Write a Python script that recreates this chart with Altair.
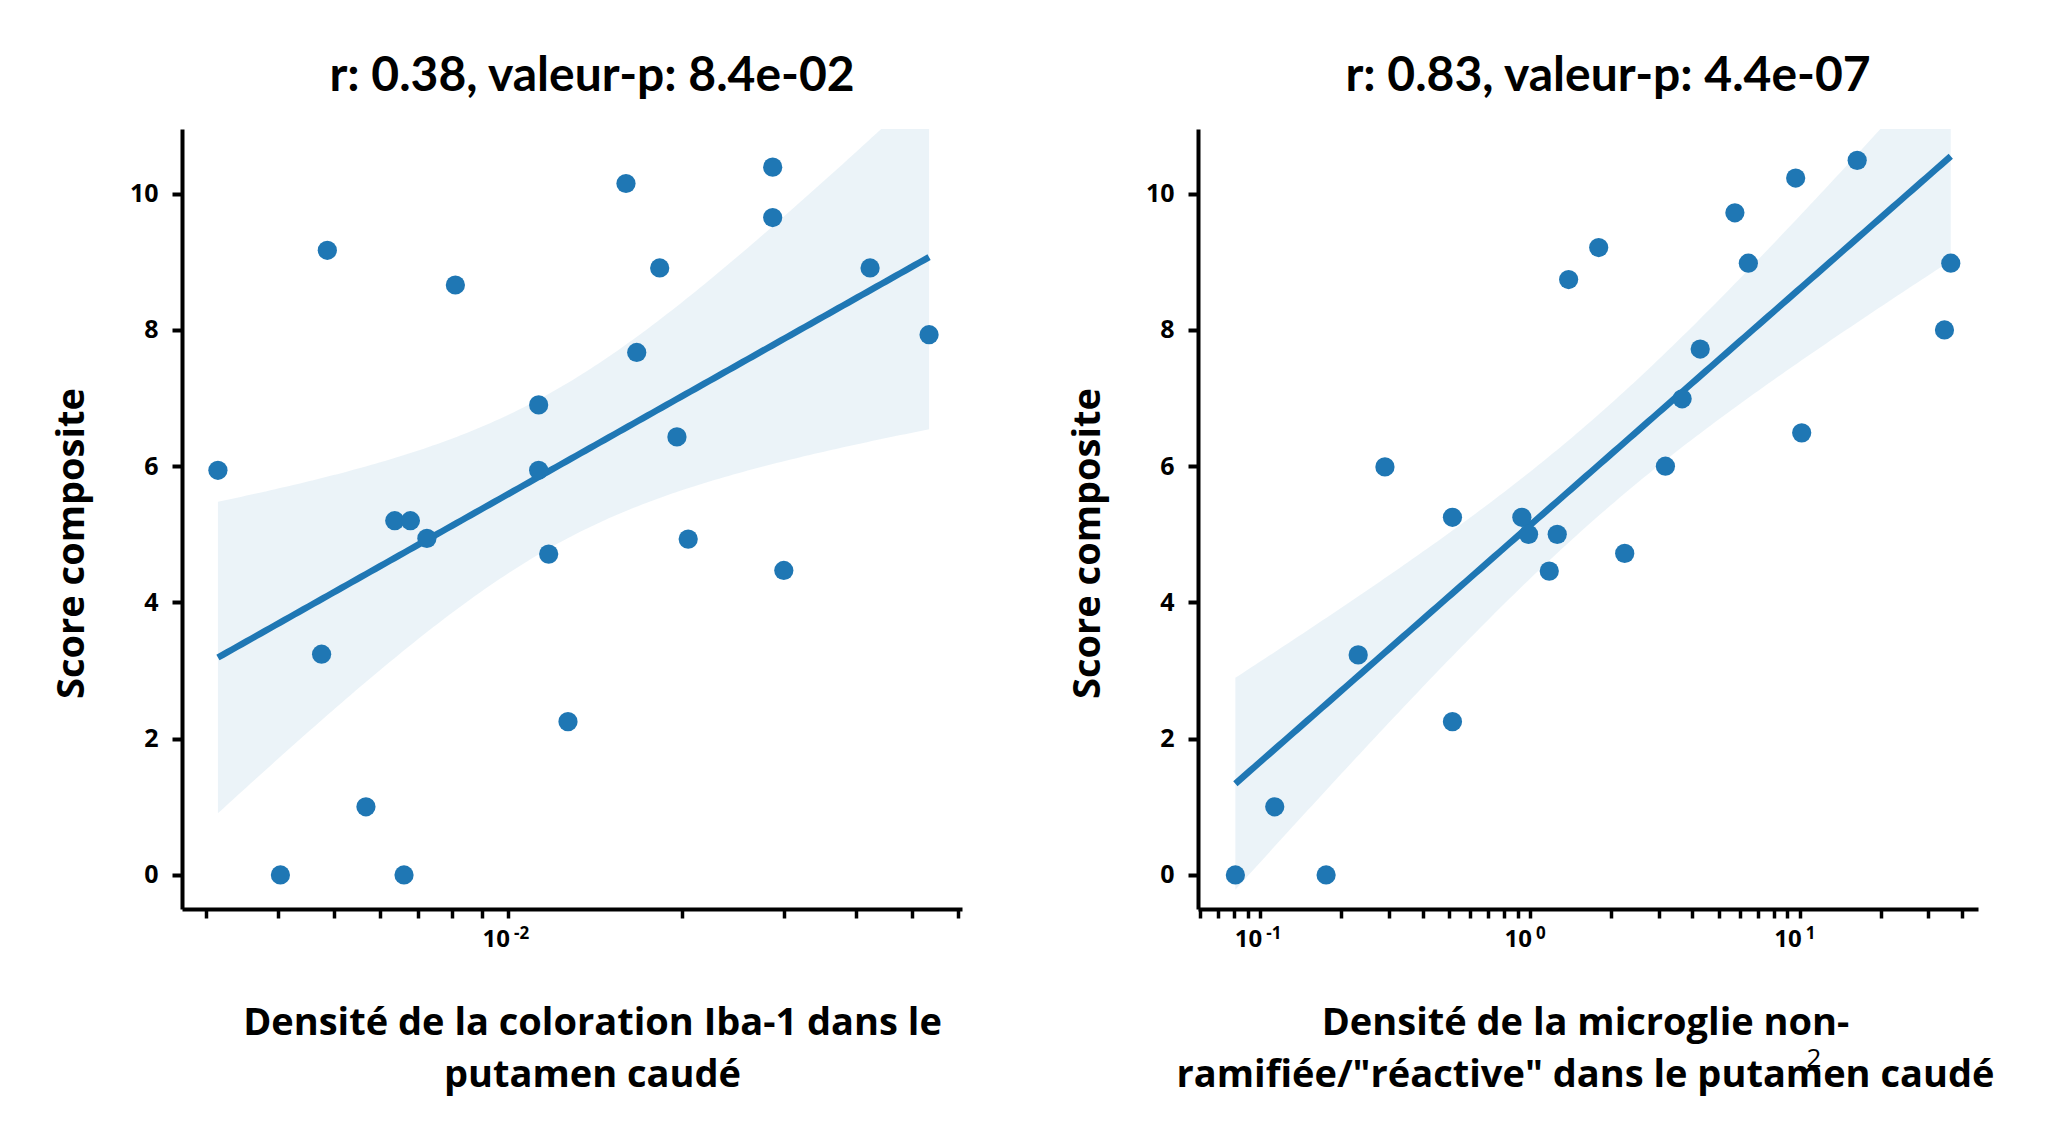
import altair as alt
import numpy as np
import pandas as pd

# ---------------- data ----------------
left_x = [3.15e-3, 4.04e-3, 4.87e-3, 4.76e-3, 5.68e-3, 6.61e-3, 6.37e-3, 6.78e-3,
          7.24e-3, 8.11e-3, 1.13e-2, 1.13e-2, 1.176e-2, 1.27e-2, 1.60e-2, 1.67e-2,
          1.83e-2, 1.96e-2, 2.05e-2, 2.87e-2, 2.87e-2, 3.00e-2, 4.23e-2, 5.35e-2]
left_y = [5.94, 0.0, 9.17, 3.24, 1.0, 0.0, 5.2, 5.2,
          4.94, 8.66, 6.9, 5.94, 4.71, 2.25, 10.15, 7.67,
          8.91, 6.43, 4.93, 10.39, 9.65, 4.47, 8.91, 7.93]

right_x = [0.0809, 0.1132, 0.1755, 0.2308, 0.290, 0.516, 0.516, 0.933,
           0.988, 1.262, 1.179, 1.391, 1.798, 2.245, 3.178, 3.665,
           4.276, 5.75, 6.45, 9.66, 10.17, 16.33, 34.4, 36.3]
right_y = [0.0, 1.0, 0.0, 3.23, 5.99, 5.25, 2.25, 5.25,
           5.0, 5.0, 4.46, 8.74, 9.21, 4.72, 6.0, 6.99,
           7.72, 9.72, 8.98, 10.23, 6.49, 10.49, 8.0, 8.98]

left_title = "r: 0.38, valeur-p: 8.4e-02"
right_title = "r: 0.83, valeur-p: 4.4e-07"
left_xtitle = ["Densité de la coloration Iba-1 dans le", "putamen caudé"]
right_xtitle = ["Densité de la microglie non-", "ramifiée/\"réactive\" dans le putamen caudé"]
y_title = "Score composite"

left_ticks = [3e-3, 4e-3, 5e-3, 6e-3, 7e-3, 8e-3, 9e-3, 1e-2, 2e-2, 3e-2, 4e-2, 5e-2, 6e-2]
left_label_at = [1e-2]
left_label_base = ["10"]
left_label_exp = ["-2"]

right_ticks = [6e-2, 7e-2, 8e-2, 9e-2, 1e-1, 2e-1, 3e-1, 4e-1, 5e-1, 6e-1, 7e-1, 8e-1, 9e-1,
               1, 2, 3, 4, 5, 6, 7, 8, 9, 10, 20, 30, 40]
right_label_at = [1e-1, 1, 10]
right_label_base = ["10", "10", "10"]
right_label_exp = ["-1", "0", "1"]

y_ticks = [0, 2, 4, 6, 8, 10]
stray_text = ["2"]

BLUE = "#1f77b4"
W, H = 780, 780
Y_DOMAIN = [-0.5, 10.95]


def fit_table(xs, ys):
    lx = np.log10(np.asarray(xs, float))
    yv = np.asarray(ys, float)
    n = len(lx)
    b, a = np.polyfit(lx, yv, 1)
    resid = yv - (a + b * lx)
    s = np.sqrt((resid ** 2).sum() / (n - 2))
    sxx = ((lx - lx.mean()) ** 2).sum()
    g = np.linspace(lx.min(), lx.max(), 150)
    yhat = a + b * g
    se = s * np.sqrt(1.0 / n + (g - lx.mean()) ** 2 / sxx)
    t = 2.074
    return pd.DataFrame({"x": 10 ** g, "yhat": yhat,
                         "lo": yhat - t * se, "hi": yhat + t * se})


def panel(xs, ys, xdomain, ticks, lab_at, lab_base, lab_exp,
          title, xtitle, xtitle_x, title_dx, extra=None):
    pts = pd.DataFrame({"x": xs, "y": ys})
    labs = pd.DataFrame({"x": lab_at, "base": lab_base, "exp": lab_exp})
    fit = fit_table(xs, ys)
    xs_ = alt.Scale(type="log", domain=xdomain, nice=False)
    ys_ = alt.Scale(domain=Y_DOMAIN, nice=False, zero=False)
    xaxis = alt.Axis(values=ticks, labels=False, grid=False, title=xtitle,
                     tickSize=9, tickWidth=3.5, tickColor="black",
                     domainWidth=4, domainColor="black",
                     titleFont="Open Sans", titleFontSize=38, titleFontWeight="bold",
                     titleColor="black", titleLineHeight=52, titlePadding=85,
                     titleX=xtitle_x, titleAlign="center")
    yaxis = alt.Axis(values=y_ticks, format="d", grid=False, title=y_title,
                     tickSize=10, tickWidth=4, tickColor="black",
                     domainWidth=4, domainColor="black",
                     labelFont="Open Sans", labelFontSize=25, labelFontWeight="bold",
                     labelColor="black", labelPadding=14,
                     titleFont="Open Sans", titleFontSize=38, titleFontWeight="bold",
                     titleColor="black", titlePadding=37.5, titleY=414)
    band = alt.Chart(fit).mark_area(color=BLUE, opacity=0.09, clip=True).encode(
        x=alt.X("x:Q", scale=xs_, axis=xaxis), y=alt.Y("lo:Q", scale=ys_, axis=yaxis),
        y2="hi:Q")
    line = alt.Chart(fit).mark_line(color=BLUE, strokeWidth=6.5, clip=True).encode(
        x=alt.X("x:Q", scale=xs_), y=alt.Y("yhat:Q", scale=ys_))
    dots = alt.Chart(pts).mark_circle(color=BLUE, opacity=1, size=370).encode(
        x=alt.X("x:Q", scale=xs_), y=alt.Y("y:Q", scale=ys_))
    base_txt = alt.Chart(labs).mark_text(
        font="Open Sans", fontSize=24, fontWeight="bold", color="black",
        align="right", baseline="alphabetic", dx=2
    ).encode(x=alt.X("x:Q", scale=xs_), y=alt.value(H + 38), text="base:N")
    exp_txt = alt.Chart(labs).mark_text(
        font="Open Sans", fontSize=17, fontWeight="bold", color="black",
        align="left", baseline="alphabetic", dx=6
    ).encode(x=alt.X("x:Q", scale=xs_), y=alt.value(H + 30), text="exp:N")
    layers = [band, line, dots, base_txt, exp_txt]
    if extra is not None:
        layers.append(extra)
    return alt.layer(*layers).properties(
        width=W, height=H,
        title=alt.TitleParams(title, font="Lato", fontSize=48, fontWeight="bold",
                              color="black", anchor="middle", dx=title_dx, offset=28))


stray = alt.Chart(pd.DataFrame({"t": stray_text})).mark_text(
    font="Open Sans", fontSize=26, color="black", baseline="alphabetic", align="center"
).encode(text="t:N", x=alt.value(616), y=alt.value(938))

left = panel(left_x, left_y, [2.73e-3, 6.1e-2], left_ticks,
             left_label_at, left_label_base, left_label_exp,
             left_title, left_xtitle, 410, 20)
right = panel(right_x, right_y, [0.0588, 45.8], right_ticks,
              right_label_at, right_label_base, right_label_exp,
              right_title, right_xtitle, 387, 20, extra=stray)

chart = alt.hconcat(left, right, spacing=107).properties(
    padding={"left": 45, "top": 45, "right": 5, "bottom": 5}
).configure_view(stroke=None)

chart.save("out.html", embed_options={"renderer": "svg", "actions": False})
